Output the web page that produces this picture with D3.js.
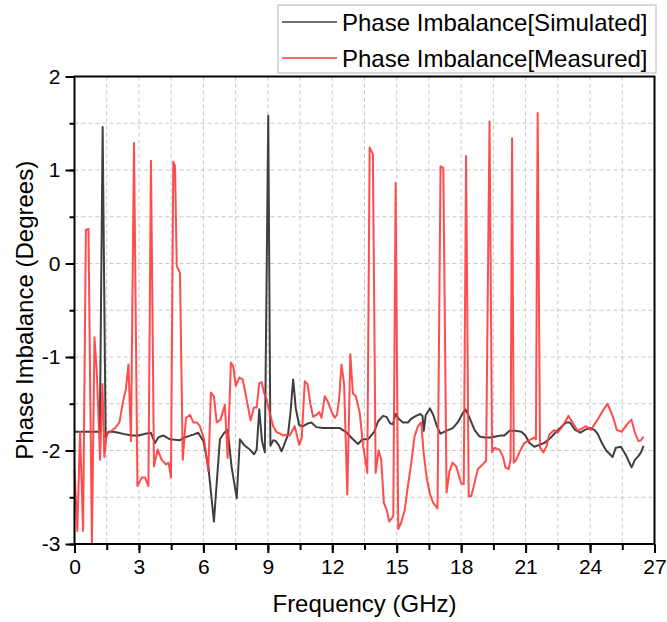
<!DOCTYPE html>
<html>
<head>
<meta charset="utf-8">
<script src="https://cdn.jsdelivr.net/npm/d3@7"></script>
<style>
  body { margin: 0; background: #fff; }
  text { font-family: "Liberation Sans", Arial, sans-serif; }
</style>
</head>
<body>
<div id="chart"></div>
<script>
// Phase imbalance vs frequency, simulated vs measured

// Simulated series
var freqSim = [0.0, 0.5, 1.0, 1.18, 1.31, 1.45, 1.58, 1.8, 2.05, 2.43, 2.67, 2.98, 3.3, 3.55, 3.75, 3.9,
  4.14, 4.45, 4.91, 5.14, 5.53, 5.76, 6.0, 6.23, 6.49, 6.62, 6.77, 6.97, 7.13, 7.31, 7.55, 7.7,
  7.93, 8.16, 8.36, 8.48, 8.6, 8.73, 8.86, 9.02, 9.12, 9.25, 9.37, 9.5, 9.64, 9.79, 9.94, 10.05,
  10.18, 10.3, 10.46, 10.64, 10.87, 11.03, 11.26, 11.57, 12.04, 12.35, 12.63, 12.96, 13.2, 13.4,
  13.66, 13.95, 14.13, 14.36, 14.52, 14.7, 14.82, 14.95, 15.09, 15.29, 15.52, 15.68, 15.9, 16.1,
  16.2, 16.26, 16.35, 16.55, 16.7, 16.87, 17.03, 17.31, 17.61, 17.84, 18.08, 18.2, 18.39, 18.62,
  18.85, 19.1, 19.4, 19.6, 19.86, 20.01, 20.25, 20.56, 20.8, 20.99, 21.18, 21.41, 21.64, 21.87,
  22.14, 22.42, 22.65, 22.88, 23.07, 23.3, 23.55, 23.75, 24.0, 24.2, 24.35, 24.55, 24.75, 25.05,
  25.2, 25.44, 25.67, 25.93, 26.09, 26.25, 26.37, 26.49];
var phaseSim = [-1.8, -1.8, -1.8, -1.8, 1.46, -1.86, -1.8, -1.8, -1.81, -1.83, -1.84, -1.84, -1.82, -1.81, -1.92, -1.86,
  -1.84, -1.88, -1.89, -1.86, -1.83, -1.81, -1.9, -2.17, -2.76, -2.35, -1.88, -1.81, -1.78, -2.17, -2.51, -1.88,
  -1.95, -1.99, -2.04, -1.99, -1.56, -1.9, -2.02, 1.58, -1.95, -1.89, -1.9, -1.94, -2.01, -1.92, -1.83, -1.6,
  -1.24, -1.55, -1.73, -1.74, -1.71, -1.7, -1.75, -1.76, -1.76, -1.76, -1.8, -1.88, -1.93, -1.88,
  -1.88, -1.8, -1.69, -1.63, -1.64, -1.71, -1.72, -1.61, -1.66, -1.7, -1.7, -1.66, -1.63, -1.61,
  -1.63, -1.79, -1.62, -1.55, -1.62, -1.74, -1.82, -1.79, -1.76, -1.7, -1.6, -1.56, -1.65, -1.78,
  -1.85, -1.86, -1.86, -1.85, -1.84, -1.84, -1.79, -1.79, -1.8, -1.84, -1.92, -1.96, -1.94, -1.92,
  -1.87, -1.8, -1.75, -1.7, -1.7, -1.78, -1.81, -1.78, -1.76, -1.78, -1.82, -1.92, -2.0, -2.07,
  -1.97, -1.96, -2.05, -2.18, -2.1, -2.06, -2.02, -1.95];

// Measured series
var freqMeas = [0.0, 0.13, 0.26, 0.4, 0.53, 0.65, 0.81, 0.93, 1.04, 1.19, 1.3, 1.39, 1.5, 1.66, 1.89, 2.09,
  2.28, 2.39, 2.51, 2.63, 2.77, 2.93, 3.13, 3.29, 3.44, 3.56, 3.7, 3.87, 4.06, 4.26, 4.38, 4.49,
  4.6, 4.68, 4.76, 4.91, 5.04, 5.19, 5.38, 5.53, 5.69, 5.84, 6.03, 6.23, 6.35, 6.49, 6.62, 6.8,
  7.0, 7.13, 7.28, 7.39, 7.51, 7.67, 7.83, 8.01, 8.2, 8.35, 8.48, 8.6, 8.71, 8.82, 8.94, 9.09,
  9.25, 9.4, 9.56, 9.71, 9.87, 10.02, 10.25, 10.46, 10.58, 10.72, 10.85, 10.98, 11.11, 11.26, 11.39, 11.5,
  11.65, 11.78, 11.96, 12.11, 12.22, 12.31, 12.43, 12.55, 12.7, 12.84, 12.96, 13.1, 13.28, 13.43, 13.63, 13.74,
  13.89, 14.02, 14.16, 14.28, 14.4, 14.54, 14.65, 14.78, 14.84, 14.95, 15.07, 15.21, 15.37, 15.52, 15.68, 15.83,
  15.99, 16.14, 16.25, 16.4, 16.55, 16.7, 16.9, 17.04, 17.17, 17.32, 17.46, 17.6, 17.77, 18.0, 18.12, 18.23,
  18.35, 18.47, 18.62, 18.77, 19.0, 19.16, 19.32, 19.44, 19.55, 19.78, 19.94, 20.06, 20.21, 20.3, 20.37, 20.45,
  20.56, 20.71, 20.94, 21.1, 21.25, 21.41, 21.48, 21.56, 21.67, 21.83, 21.98, 22.1, 22.33, 22.49, 22.72, 22.99,
  23.19, 23.42, 23.65, 23.81, 24.04, 24.35, 24.58, 24.81, 25.05, 25.25, 25.47, 25.72, 25.93, 26.09, 26.25, 26.37,
  26.49];
var phaseMeas = [-2.2, -2.86, -1.8, -2.86, 0.36, 0.37, -3.0, -0.79, -1.17, -2.1, -1.29, -2.07, -1.82, -1.8, -1.76, -1.7,
  -1.45, -1.35, -1.08, -1.9, 1.29, -2.38, -2.29, -2.29, -2.38, 1.1, -2.17, -1.99, -2.1, -2.15, -2.13, -2.29,
  1.09, 1.04, -0.03, -0.1, -2.1, -1.65, -1.62, -1.7, -1.7, -1.74, -1.88, -2.22, -1.38, -1.42, -1.7, -1.67,
  -1.51, -2.08, -1.06, -1.1, -1.31, -1.22, -1.24, -1.45, -1.68, -1.54, -1.54, -1.28, -1.27, -1.38, -1.45, -1.6,
  -1.74, -1.8, -1.82, -1.84, -1.83, -1.84, -1.74, -1.94, -1.86, -1.26, -1.29, -1.5, -1.64, -1.62, -1.59, -1.65,
  -1.42, -1.47, -1.58, -1.65, -1.62, -1.47, -1.08, -1.29, -2.47, -0.97, -1.39, -1.42, -1.6, -1.94, -2.24, 1.24,
  1.17, -2.24, -2.0, -2.1, -2.56, -2.64, -2.76, -2.72, -2.7, 0.86, -2.84, -2.77, -2.64, -2.38, -2.13, -1.85,
  -1.74, -1.7, -2.02, -2.3, -2.47, -2.56, -2.62, 1.04, 1.02, -2.45, -2.22, -2.13, -2.17, -2.35, -2.36, 1.15,
  -2.49, -2.49, -2.35, -2.2, -2.15, -2.11, 1.52, -2.02, -1.97, -1.99, -2.06, -2.18, -2.2, -2.1, 1.34, -2.13,
  -2.1, -2.02, -1.92, -1.9, -1.88, -1.86, -1.88, 1.61, -1.97, -2.02, -1.95, -1.83, -1.78, -1.81, -1.74, -1.63,
  -1.7, -1.79, -1.76, -1.74, -1.78, -1.67, -1.58, -1.5, -1.63, -1.78, -1.8, -1.72, -1.67, -1.81, -1.9, -1.89,
  -1.85];

var xTickLabels = [0, 3, 6, 9, 12, 15, 18, 21, 24, 27];
var yTickLabels = [-3, -2, -1, 0, 1, 2];
var seriesNames = ["Phase Imbalance[Simulated]", "Phase Imbalance[Measured]"];
var seriesColors = ["#3f3f3f", "#ff3838"];

var svgWidth = 667;
var svgHeight = 622;
var margin = { top: 76.5, right: 12.5, bottom: 78, left: 74.5 };
var chartWidth = svgWidth - margin.left - margin.right;
var chartHeight = svgHeight - margin.top - margin.bottom;

var svg = d3.select("#chart")
  .append("svg")
  .attr("width", svgWidth)
  .attr("height", svgHeight);

var chartGroup = svg.append("g")
  .attr("transform", `translate(${margin.left}, ${margin.top})`);

var xScale = d3.scaleLinear().domain([0, 27]).range([0, chartWidth]);
var yScale = d3.scaleLinear().domain([-3, 2]).range([chartHeight, 0]);

// grid lines every minor step
var xGrid = d3.range(1.5, 27, 1.5);
var yGrid = d3.range(-2.5, 2, 0.5);
chartGroup.selectAll(".xgrid").data(xGrid).enter().append("line")
  .attr("x1", d => xScale(d)).attr("x2", d => xScale(d))
  .attr("y1", 0).attr("y2", chartHeight)
  .attr("stroke", "#c8c8c8").attr("stroke-width", 1).attr("stroke-dasharray", "4,3");
chartGroup.selectAll(".ygrid").data(yGrid).enter().append("line")
  .attr("x1", 0).attr("x2", chartWidth)
  .attr("y1", d => yScale(d)).attr("y2", d => yScale(d))
  .attr("stroke", "#c8c8c8").attr("stroke-width", 1).attr("stroke-dasharray", "4,3");

// lines
var simData = freqSim.map((f, i) => [f, phaseSim[i]]);
var measData = freqMeas.map((f, i) => [f, phaseMeas[i]]);
var line = d3.line().x(d => xScale(d[0])).y(d => yScale(d[1]));

chartGroup.append("path")
  .datum(simData)
  .attr("d", line)
  .attr("fill", "none")
  .attr("stroke", seriesColors[0])
  .attr("stroke-width", 2)
  .attr("stroke-linejoin", "round");

chartGroup.append("path")
  .datum(measData)
  .attr("d", line)
  .attr("fill", "none")
  .attr("stroke", seriesColors[1])
  .attr("stroke-opacity", 0.9)
  .attr("stroke-width", 2)
  .attr("stroke-linejoin", "round");

// axes (plain hyphen for negatives, like the original)
var plainFmt = d => String(d);
var bottomMinor = d3.axisBottom(xScale).tickValues(d3.range(0, 27.1, 1.5)).tickSize(6).tickFormat("");
var bottomAxis = d3.axisBottom(xScale).tickValues(xTickLabels).tickSize(9).tickPadding(6).tickFormat(plainFmt);
var leftMinor = d3.axisLeft(yScale).tickValues(d3.range(-3, 2.01, 0.5)).tickSize(5).tickFormat("");
var leftAxis = d3.axisLeft(yScale).tickValues(yTickLabels).tickSize(9).tickPadding(5).tickFormat(plainFmt);

function styleAxis(g) {
  g.select(".domain").remove();
  g.selectAll(".tick line").attr("stroke", "#000").attr("stroke-width", 2);
  g.selectAll("text")
    .attr("fill", "#000")
    .style("font-family", "'Liberation Sans', Arial, sans-serif")
    .style("font-size", "21px");
}

chartGroup.append("g").attr("transform", `translate(0, ${chartHeight})`).call(bottomMinor).call(styleAxis);
chartGroup.append("g").attr("transform", `translate(0, ${chartHeight})`).call(bottomAxis).call(styleAxis);
chartGroup.append("g").call(leftMinor).call(styleAxis);
chartGroup.append("g").call(leftAxis).call(styleAxis);

// frame
chartGroup.append("rect")
  .attr("x", 0).attr("y", 0)
  .attr("width", chartWidth).attr("height", chartHeight)
  .attr("fill", "none").attr("stroke", "#000").attr("stroke-width", 2);

// axis labels
chartGroup.append("text")
  .attr("x", chartWidth / 2)
  .attr("y", chartHeight + 68)
  .attr("text-anchor", "middle")
  .attr("font-size", "24px")
  .text("Frequency (GHz)");

chartGroup.append("text")
  .attr("transform", "rotate(-90)")
  .attr("x", -chartHeight / 2)
  .attr("y", -margin.left + 33)
  .attr("text-anchor", "middle")
  .attr("font-size", "24px")
  .text("Phase Imbalance (Degrees)");

// legend
var legend = svg.append("g").attr("transform", "translate(278, 5)");
legend.append("rect")
  .attr("x", 0).attr("y", 0)
  .attr("width", 378).attr("height", 68)
  .attr("fill", "#fff").attr("stroke", "#b4b4b4").attr("stroke-width", 1);

seriesNames.forEach(function(name, i) {
  var yRow = 17 + i * 36;
  legend.append("line")
    .attr("x1", 4).attr("x2", 59)
    .attr("y1", yRow).attr("y2", yRow)
    .attr("stroke", seriesColors[i]).attr("stroke-width", 1.5);
  legend.append("text")
    .attr("x", 64)
    .attr("y", yRow + 8.5)
    .attr("font-size", "24px")
    .attr("fill", "#000")
    .text(name);
});
</script>
</body>
</html>
